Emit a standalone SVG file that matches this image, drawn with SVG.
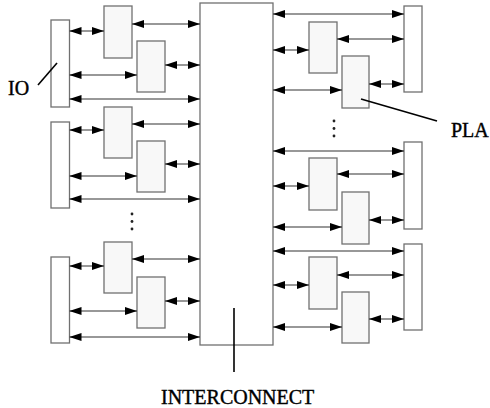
<svg xmlns="http://www.w3.org/2000/svg" width="490" height="408" viewBox="0 0 490 408">
<style>
.io{fill:#ffffff;stroke:#707070;stroke-width:1.3}
.pla{fill:#f8f8f8;stroke:#707070;stroke-width:1.3}
.ic{fill:#ffffff;stroke:#707070;stroke-width:1.3}
.c line{stroke:#333;stroke-width:1.1;marker-start:url(#ah);marker-end:url(#ah)}
.ptr{stroke:#000;stroke-width:1.6}
.lbl{font-family:"Liberation Serif","Times New Roman",serif;font-size:20px;fill:#000;stroke:#000;stroke-width:0.4}
.dot{fill:#222}
</style>
<defs>
<marker id="ah" markerUnits="userSpaceOnUse" markerWidth="12" markerHeight="8" refX="12" refY="4" orient="auto-start-reverse">
<path d="M0,0 L12,4 L0,8 z" fill="#000"/>
</marker>
</defs>
<g id="interconnect"><rect class="ic" x="200" y="3" width="73" height="342"/></g>
<g id="L1">
<rect class="io" x="51" y="20" width="18.5" height="87"/>
<rect class="pla" x="104" y="6" width="28" height="52"/>
<rect class="pla" x="137" y="41" width="28" height="51"/>
</g>
<g id="L2">
<rect class="io" x="51" y="122" width="18.5" height="86"/>
<rect class="pla" x="104" y="107" width="28" height="51"/>
<rect class="pla" x="137" y="141" width="28" height="51"/>
</g>
<g id="L3">
<rect class="io" x="51" y="257" width="18.5" height="86"/>
<rect class="pla" x="104" y="242" width="28" height="51"/>
<rect class="pla" x="137" y="277" width="28" height="51"/>
</g>
<g id="R1">
<rect class="io" x="404" y="6" width="18" height="86"/>
<rect class="pla" x="309" y="22" width="28" height="51"/>
<rect class="pla" x="342" y="56" width="27" height="52"/>
</g>
<g id="R2">
<rect class="io" x="404" y="142" width="18" height="87"/>
<rect class="pla" x="309" y="158" width="28" height="52"/>
<rect class="pla" x="342" y="192" width="27" height="52"/>
</g>
<g id="R3">
<rect class="io" x="404" y="244" width="18" height="86"/>
<rect class="pla" x="309" y="257" width="28" height="52"/>
<rect class="pla" x="342" y="292" width="27" height="51"/>
</g>
<g id="connectors" class="c">
<line x1="132" y1="24" x2="200" y2="24"/>
<line x1="69.5" y1="31" x2="104" y2="31"/>
<line x1="165" y1="65" x2="200" y2="65"/>
<line x1="69.5" y1="75" x2="137" y2="75"/>
<line x1="69.5" y1="99" x2="200" y2="99"/>
<line x1="132" y1="124" x2="200" y2="124"/>
<line x1="69.5" y1="130" x2="104" y2="130"/>
<line x1="165" y1="164" x2="200" y2="164"/>
<line x1="69.5" y1="176" x2="137" y2="176"/>
<line x1="69.5" y1="199" x2="200" y2="199"/>
<line x1="132" y1="259" x2="200" y2="259"/>
<line x1="69.5" y1="266" x2="104" y2="266"/>
<line x1="165" y1="301" x2="200" y2="301"/>
<line x1="69.5" y1="311" x2="137" y2="311"/>
<line x1="69.5" y1="337" x2="200" y2="337"/>
<line x1="273" y1="14" x2="404" y2="14"/>
<line x1="337" y1="39" x2="404" y2="39"/>
<line x1="273" y1="50" x2="309" y2="50"/>
<line x1="369" y1="84" x2="404" y2="84"/>
<line x1="273" y1="90" x2="342" y2="90"/>
<line x1="273" y1="151" x2="404" y2="151"/>
<line x1="337" y1="174" x2="404" y2="174"/>
<line x1="273" y1="186" x2="309" y2="186"/>
<line x1="369" y1="220" x2="404" y2="220"/>
<line x1="273" y1="227" x2="342" y2="227"/>
<line x1="273" y1="251" x2="404" y2="251"/>
<line x1="337" y1="275" x2="404" y2="275"/>
<line x1="273" y1="285" x2="309" y2="285"/>
<line x1="369" y1="319" x2="404" y2="319"/>
<line x1="273" y1="327" x2="342" y2="327"/>
</g>
<g id="dots">
<circle class="dot" cx="132" cy="214" r="1.4"/>
<circle class="dot" cx="132" cy="221.5" r="1.4"/>
<circle class="dot" cx="132" cy="229" r="1.4"/>
<circle class="dot" cx="334" cy="121" r="1.4"/>
<circle class="dot" cx="334" cy="128.5" r="1.4"/>
<circle class="dot" cx="334" cy="136" r="1.4"/>
</g>
<g id="labels">
<line class="ptr" x1="38" y1="85" x2="57" y2="63"/>
<text class="lbl" x="8" y="94.5">IO</text>
<line class="ptr" x1="361" y1="99" x2="437" y2="121"/>
<text class="lbl" x="451" y="137">PLA</text>
<line class="ptr" x1="234" y1="308" x2="234" y2="372"/>
<text class="lbl" x="161" y="403.5">INTERCONNECT</text>
</g>
</svg>
